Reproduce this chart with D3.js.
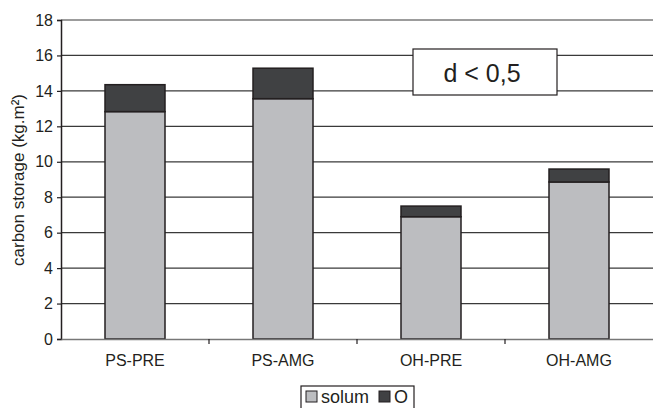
<!DOCTYPE html>
<html><head><meta charset="utf-8">
<script src="https://cdn.jsdelivr.net/npm/d3@7"></script>
<style>body{margin:0;background:#fff}svg{display:block;font-family:"Liberation Sans",Arial,sans-serif}</style>
</head><body><svg id="c" width="653" height="408"></svg>
<script>
const categories = ["PS-PRE","PS-AMG","OH-PRE","OH-AMG"];
const solum = [12.83, 13.56, 6.9, 8.86];
const organic = [1.52, 1.72, 0.6, 0.73];
const yTicks = [0,2,4,6,8,10,12,14,16,18];
const seriesNames = ["solum","O"];
const colors = ["#bcbdc0","#404143"];

const svg = d3.select("#c");
const m = {l:61, r:0, t:20, b:69};
const W = 653, H = 408;
const x = d3.scaleBand().domain(categories).range([m.l, W - m.r]).paddingInner(0).paddingOuter(0);
const y = d3.scaleLinear().domain([0,18]).range([H - m.b, m.t]);

// grid
svg.append("g").selectAll("line").data(yTicks.filter(d=>d>0)).join("line")
  .attr("x1", m.l).attr("x2", W).attr("y1", d=>y(d)).attr("y2", d=>y(d))
  .attr("stroke", "#3a3a3a").attr("stroke-width", 1.2);

const data = categories.map((c,i)=>({c, solum: solum[i], O: organic[i]}));
const stack = d3.stack().keys(seriesNames)(data);
const bw = 60;
svg.append("g").selectAll("g").data(stack).join("g")
  .attr("fill", (d,i)=>colors[i])
  .selectAll("rect").data(d=>d).join("rect")
  .attr("x", d=>x(d.data.c) + x.bandwidth()/2 - bw/2)
  .attr("width", bw)
  .attr("y", d=>y(d[1]))
  .attr("height", d=>y(d[0]) - y(d[1]))
  .attr("stroke", "#231f20").attr("stroke-width", 1.5);

// y axis
const ya = svg.append("g").attr("transform", `translate(${m.l},0)`)
  .call(d3.axisLeft(y).tickValues(yTicks).tickSize(4).tickPadding(4));
ya.attr("font-size", null).attr("font-family", null);
ya.select(".domain").attr("stroke", "#231f20").attr("stroke-width", 1.5);
ya.selectAll(".tick line").attr("stroke", "#231f20").attr("stroke-width", 1.2);
ya.selectAll("text").style("font-size", "16px").attr("fill", "#231f20");

// x axis
const xa = svg.append("g").attr("transform", `translate(0,${y(0)})`)
  .call(d3.axisBottom(x).tickSize(0).tickPadding(16));
xa.attr("font-size", null).attr("font-family", null);
xa.select(".domain").attr("stroke", "#777").attr("stroke-width", 1.5);
xa.selectAll("text").style("font-size", "16px").attr("fill", "#231f20");
svg.append("g").selectAll("line").data(categories.slice(1)).join("line")
  .attr("x1", d=>x(d)).attr("x2", d=>x(d)).attr("y1", y(0)).attr("y2", y(0)+5)
  .attr("stroke", "#231f20").attr("stroke-width", 1.2);

// y title
svg.append("text").attr("transform", `translate(24,${180}) rotate(-90)`)
  .attr("text-anchor","middle").style("font-size", "17px").attr("fill","#231f20")
  .text("carbon storage (kg.m²)");

// annotation box
svg.append("rect").attr("x", 413).attr("y", 49).attr("width", 144).attr("height", 46)
  .attr("fill","#fff").attr("stroke","#231f20").attr("stroke-width",1.2);
svg.append("text").attr("x", 482).attr("y", 82).attr("text-anchor","middle")
  .style("font-size", "25px").attr("fill","#231f20").text("d < 0,5");

// legend
const lg = svg.append("g");
lg.append("rect").attr("x", 301).attr("y", 386).attr("width", 113).attr("height", 30)
  .attr("fill","#fff").attr("stroke","#231f20").attr("stroke-width",1.2);
const items = [{n:seriesNames[0], x:306, c:colors[0]},{n:seriesNames[1], x:379, c:colors[1]}];
items.forEach(it=>{
  lg.append("rect").attr("x", it.x).attr("y", 391).attr("width", 11).attr("height", 11)
    .attr("fill", it.c).attr("stroke","#231f20").attr("stroke-width",1);
  lg.append("text").attr("x", it.x + 15).attr("y", 403).style("font-size", "18px").attr("fill","#231f20").text(it.n);
});
</script></body></html>
